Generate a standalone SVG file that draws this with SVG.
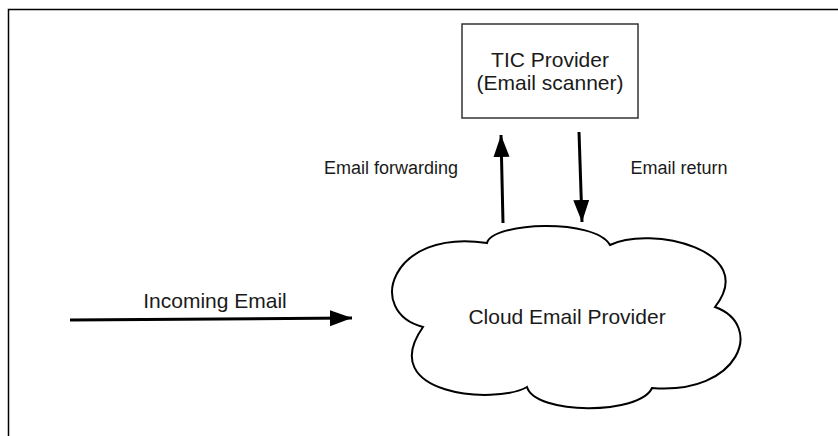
<svg xmlns="http://www.w3.org/2000/svg" width="838" height="436" viewBox="0 0 838 436">
<style>
.t{font-family:"Liberation Sans",Arial,sans-serif;fill:#1a1a1a;text-anchor:middle}
.conn{stroke:#000;stroke-width:3;fill:none}
</style>
<defs>
<marker id="ah" markerUnits="userSpaceOnUse" markerWidth="24" markerHeight="18" refX="22" refY="8" orient="auto">
<path d="M0,0 L22,8 L0,16 Z" fill="#000"/>
</marker>
</defs>
<rect width="838" height="436" fill="#fff"/>
<rect x="8.5" y="9.5" width="840" height="440" fill="none" stroke="#000" stroke-width="1.5"/>
<g id="tic">
<rect x="462" y="24" width="176" height="94" fill="#fff" stroke="#333" stroke-width="1.5"/>
<text class="t" x="550" y="67" font-size="21">TIC Provider</text>
<text class="t" x="550" y="90" font-size="21">(Email scanner)</text>
</g>
<g id="cloud">
<path d="M487,243 C492,222 595,218 610,245 C650,225 760,250 715,307 C765,325 740,395 652,388 C640,415 535,415 527,387 C495,405 375,395 423,327 C365,312 390,228 487,243 Z" fill="#fff" stroke="#000" stroke-width="2"/>
<text class="t" x="567" y="324" font-size="21">Cloud Email Provider</text>
</g>
<g id="connectors">
<line class="conn" x1="70" y1="320" x2="352" y2="318" marker-end="url(#ah)"/>
<line class="conn" x1="503" y1="223" x2="501" y2="135" marker-end="url(#ah)"/>
<line class="conn" x1="579" y1="132" x2="582" y2="222" marker-end="url(#ah)"/>
<text class="t" x="215" y="308" font-size="21">Incoming Email</text>
<text class="t" x="391" y="174" font-size="18">Email forwarding</text>
<text class="t" x="679" y="174" font-size="18">Email return</text>
</g>
</svg>
